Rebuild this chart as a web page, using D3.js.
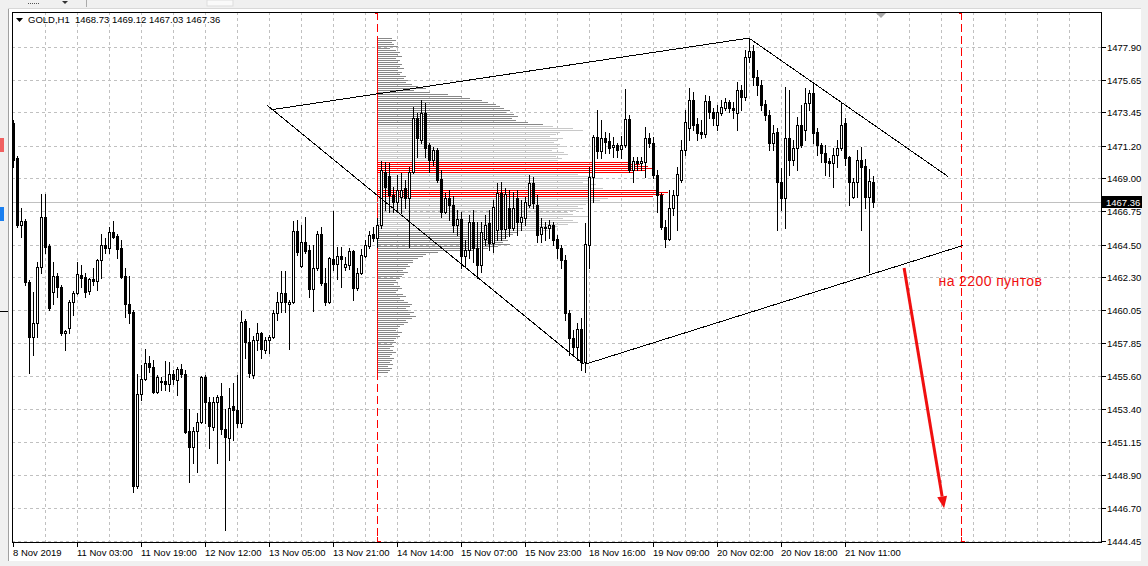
<!DOCTYPE html>
<html>
<head>
<meta charset="utf-8">
<script src="https://cdn.jsdelivr.net/npm/d3@7"></script>
<style>
  html, body { margin: 0; padding: 0; background: #fff; }
  svg { display: block; font-family: "Liberation Sans", Arial, sans-serif; }
</style>
</head>
<body>
<svg id="chart" width="1148" height="566"></svg>
<script>
// ---- data (GOLD, H1) ----
const symbol = "GOLD,H1";

const opens = [1472.72,1470.35,1465.82,1466.09,1461.96,1458.23,1459.18,1462.97,1466.36,1464.40,
1461.28,1462.36,1461.62,1458.51,1458.85,1460.60,1461.21,1462.43,1462.30,1461.35,
1462.16,1462.02,1463.45,1464.46,1464.26,1465.34,1465.07,1464.26,1462.36,1460.47,
1459.93,1448.15,1454.38,1455.40,1456.47,1456.20,1454.51,1455.26,1455.26,1455.05,
1455.73,1455.32,1456.07,1455.73,1451.87,1450.79,1451.87,1452.48,1455.53,1453.83,
1452.14,1453.83,1454.24,1452.01,1451.40,1453.56,1453.29,1452.41,1459.32,1457.90,
1455.66,1458.03,1458.51,1457.35,1458.03,1458.23,1459.86,1460.60,1461.21,1460.47,
1460.60,1465.41,1463.04,1464.67,1464.13,1461.49,1462.91,1465.21,1461.89,1460.60,
1463.52,1463.18,1463.72,1462.97,1463.11,1464.06,1461.55,1462.57,1463.72,1464.40,
1465.21,1464.94,1465.82,1469.41,1469.14,1467.85,1467.38,1467.71,1468.32,1467.65,
1469.41,1473.06,1471.57,1473.40,1471.23,1470.22,1470.90,1468.93,1466.70,1467.65,
1467.17,1465.82,1466.22,1463.72,1464.13,1466.02,1464.26,1463.11,1464.87,1465.95,
1464.60,1465.48,1467.98,1465.55,1466.97,1465.61,1467.65,1466.02,1466.29,1467.17,
1468.66,1467.17,1465.21,1465.68,1465.61,1465.82,1464.87,1464.26,1463.45,1459.86,
1458.17,1457.56,1458.78,1456.54,1464.46,1469.07,1471.78,1470.83,1471.71,1471.50,
1471.10,1471.23,1470.96,1471.23,1473.00,1469.54,1470.15,1470.02,1470.08,1471.71,
1471.37,1469.20,1467.85,1465.68,1464.87,1466.97,1467.85,1468.87,1470.90,1472.38,
1474.28,1472.66,1472.11,1471.98,1474.21,1473.47,1472.59,1473.40,1473.74,1474.14,
1473.74,1473.40,1474.96,1474.48,1477.19,1477.60,1475.84,1475.30,1474.01,1473.27,
1471.37,1472.11,1468.73,1467.65,1471.71,1470.22,1471.03,1472.59,1472.25,1474.08,
1474.75,1472.11,1471.23,1470.69,1470.15,1470.02,1470.56,1471.03,1472.72,1470.42,
1467.71,1468.73,1470.22,1469.81,1467.71,1468.73];

const highs = [1472.93,1470.49,1466.97,1466.22,1462.09,1461.28,1463.31,1467.92,1467.92,1464.53,
1463.31,1462.57,1461.76,1458.71,1460.74,1461.35,1463.31,1463.11,1462.57,1462.23,
1462.91,1463.52,1465.21,1464.94,1465.68,1466.09,1465.21,1464.80,1462.91,1462.36,
1460.06,1455.73,1456.34,1457.42,1456.95,1456.68,1455.66,1455.53,1456.61,1456.54,
1456.00,1456.20,1456.41,1456.00,1453.36,1452.14,1453.09,1455.60,1455.66,1454.17,
1454.17,1454.31,1455.12,1453.36,1454.78,1455.12,1455.66,1459.99,1459.45,1458.85,
1458.30,1459.18,1458.57,1458.23,1458.37,1460.06,1461.28,1462.70,1462.70,1460.74,
1466.09,1466.16,1465.82,1466.36,1464.46,1464.46,1465.41,1465.68,1462.91,1463.65,
1466.77,1464.33,1464.33,1463.65,1464.26,1464.13,1462.91,1464.19,1464.80,1465.41,
1465.68,1466.29,1470.15,1470.08,1470.02,1468.39,1469.20,1469.34,1468.87,1469.75,
1473.81,1473.40,1474.28,1474.08,1471.37,1471.10,1471.03,1469.54,1467.98,1468.19,
1467.78,1466.83,1466.70,1464.80,1466.49,1466.83,1466.02,1466.02,1466.49,1466.83,
1467.51,1468.66,1468.73,1468.32,1468.19,1468.05,1468.19,1467.51,1467.71,1469.20,
1469.07,1467.85,1466.29,1466.02,1466.16,1466.02,1465.14,1464.46,1463.79,1460.06,
1458.71,1459.18,1459.52,1465.95,1469.75,1471.91,1473.60,1472.93,1472.11,1472.05,
1471.78,1471.37,1471.84,1475.02,1473.27,1470.42,1470.42,1470.42,1472.45,1472.05,
1471.78,1469.54,1467.98,1466.16,1468.19,1468.19,1469.75,1471.57,1473.60,1475.09,
1474.82,1473.06,1472.93,1474.62,1474.55,1473.74,1473.94,1474.28,1474.42,1474.28,
1474.14,1475.50,1475.30,1477.67,1478.48,1478.00,1476.31,1475.63,1474.28,1473.60,
1472.59,1472.38,1469.68,1475.16,1474.96,1471.57,1473.13,1473.94,1475.09,1474.96,
1475.43,1472.38,1471.37,1471.23,1470.35,1471.03,1471.57,1474.14,1473.06,1470.49,
1469.00,1470.90,1471.10,1470.29,1469.61,1469.12];

const lows = [1469.75,1465.68,1465.00,1461.76,1455.80,1457.02,1458.23,1462.57,1463.92,1460.06,
1460.47,1460.94,1458.37,1457.35,1458.51,1459.73,1461.15,1461.62,1460.94,1461.15,
1461.76,1461.42,1462.23,1463.92,1463.92,1464.94,1463.58,1462.23,1459.59,1459.18,
1447.74,1448.01,1453.97,1455.32,1455.87,1454.44,1454.44,1454.65,1454.65,1454.58,
1455.05,1454.31,1455.53,1451.74,1448.42,1449.70,1449.10,1452.41,1452.41,1450.72,
1451.94,1449.70,1451.67,1445.17,1449.91,1451.26,1452.14,1452.14,1456.81,1455.53,
1455.46,1457.35,1456.81,1457.15,1457.15,1458.17,1459.39,1459.93,1459.93,1457.42,
1460.54,1463.79,1462.97,1463.92,1460.94,1459.99,1462.77,1461.76,1460.40,1460.54,
1462.77,1462.16,1461.62,1462.77,1462.84,1460.74,1461.42,1462.50,1463.65,1464.26,
1464.73,1464.33,1465.61,1466.83,1466.70,1466.70,1466.83,1466.63,1466.97,1464.33,
1469.34,1470.42,1471.37,1470.42,1469.41,1469.88,1468.73,1466.36,1466.63,1466.16,
1465.34,1465.14,1462.91,1463.04,1463.58,1463.31,1462.23,1462.63,1464.46,1464.13,
1463.99,1464.80,1464.80,1464.94,1465.07,1465.48,1465.14,1465.48,1465.82,1467.04,
1466.97,1464.67,1464.67,1464.80,1464.94,1464.46,1463.58,1462.91,1459.39,1457.02,
1457.02,1456.68,1456.00,1455.87,1462.91,1467.38,1470.35,1470.35,1470.69,1470.69,
1470.42,1470.42,1470.35,1471.10,1469.41,1468.73,1469.54,1469.54,1469.07,1471.10,
1469.00,1466.70,1465.55,1464.33,1464.80,1466.49,1465.48,1468.73,1470.56,1471.57,
1472.25,1471.57,1471.71,1471.78,1473.06,1472.59,1472.25,1473.27,1473.60,1473.47,
1473.06,1472.25,1473.60,1474.28,1476.85,1475.30,1474.62,1473.60,1472.93,1470.90,
1470.90,1465.48,1466.83,1465.61,1469.20,1469.88,1469.54,1471.10,1471.57,1473.60,
1471.37,1470.56,1470.08,1469.20,1469.14,1468.39,1469.75,1470.90,1469.88,1467.17,
1467.65,1467.71,1465.48,1466.97,1462.63,1467.03];

const closes = [1470.22,1465.82,1466.09,1461.96,1458.23,1459.18,1462.97,1466.36,1464.33,1460.20,
1462.36,1461.62,1458.51,1458.64,1460.60,1461.21,1462.50,1462.23,1461.28,1462.16,
1462.02,1463.45,1464.46,1464.26,1465.34,1465.00,1464.19,1462.30,1460.47,1459.86,
1448.15,1454.38,1455.40,1456.47,1456.20,1454.51,1455.53,1455.19,1455.05,1455.73,
1455.40,1456.07,1455.73,1451.80,1450.79,1451.87,1452.48,1455.53,1453.83,1452.21,
1453.83,1454.17,1452.01,1451.46,1453.43,1453.29,1452.41,1459.25,1457.90,1455.80,
1458.03,1458.51,1457.42,1458.03,1458.23,1459.86,1460.60,1461.21,1460.60,1460.60,
1465.41,1463.99,1464.67,1464.06,1461.49,1462.91,1465.21,1461.89,1460.60,1463.58,
1463.18,1463.72,1463.52,1463.18,1464.06,1461.55,1462.57,1463.79,1464.46,1465.14,
1464.94,1465.82,1469.54,1468.39,1467.85,1467.38,1468.19,1468.19,1467.65,1469.41,
1473.06,1471.71,1473.40,1471.03,1470.22,1470.90,1468.87,1466.70,1467.65,1467.17,
1465.82,1466.22,1463.72,1464.13,1466.02,1464.26,1463.11,1465.34,1465.82,1464.60,
1467.04,1467.98,1465.55,1467.92,1465.61,1466.97,1466.02,1466.36,1467.38,1468.66,
1467.31,1465.14,1465.68,1465.61,1465.82,1464.80,1464.26,1463.45,1459.86,1458.17,
1457.56,1458.78,1456.54,1464.53,1469.07,1471.78,1470.83,1471.71,1471.44,1471.03,
1471.23,1470.90,1471.23,1473.00,1469.54,1470.15,1470.02,1470.15,1471.71,1471.37,
1469.20,1467.85,1465.68,1464.87,1466.97,1467.85,1469.27,1470.90,1472.79,1474.28,
1472.59,1472.05,1471.98,1474.21,1473.47,1473.06,1473.47,1473.81,1474.14,1473.74,
1473.60,1474.96,1474.48,1477.19,1477.60,1475.84,1475.30,1473.94,1473.27,1471.37,
1472.05,1468.73,1467.65,1471.71,1470.22,1471.03,1472.59,1471.23,1474.08,1474.75,
1472.05,1471.23,1470.69,1470.08,1470.02,1470.56,1471.03,1472.59,1470.35,1468.73,
1468.73,1470.22,1469.75,1467.71,1468.80,1467.36];

// time scale labels (bar index -> text)
const timeLabelBars = [0, 16, 32, 48, 64, 80, 96, 112, 128, 144, 160, 176, 192, 208];
const timeLabels = ["8 Nov 2019", "11 Nov 03:00", "11 Nov 19:00", "12 Nov 12:00", "13 Nov 05:00",
  "13 Nov 21:00", "14 Nov 14:00", "15 Nov 07:00", "15 Nov 23:00", "18 Nov 16:00",
  "19 Nov 09:00", "20 Nov 02:00", "20 Nov 18:00", "21 Nov 11:00"];

// price scale labels
const priceTicks = [1477.90, 1475.65, 1473.45, 1471.20, 1469.00, 1466.75, 1464.50, 1462.30,
  1460.05, 1457.85, 1455.60, 1453.40, 1451.15, 1448.90, 1446.70, 1444.45];

// volume profile (from bar 91, rows going down from the top level)
const profileStartBar = 91;
const profileTopPrice = 1478.47;
const profileRowStep = 0.1353;
const profileVolumes = [14,18,14,16,20,12,18,
  22,20,24,18,22,
  20,24,22,26,20,24,22,28,
  26,30,28,34,
  40,48,36,52,
  70,84,92,
  104,110,118,122,126,
  132,128,136,140,134,138,150,
  165,
  175,195,205,
  182,178,172,185,180,
  176,182,188,180,174,186,190,178,184,180,
  250,262,270,275,268,255,
  200,215,222,210,205,218,212,225,
  280,290,286,275,
  230,222,215,208,
  200,205,198,190,195,210,
  185,195,200,190,180,175,170,
  140,135,130,
  128,130,125,132,120,110,95,
  60,48,45,40,35,
  35,30,32,28,25,30,26,24,
  22,18,20,16,22,24,20,18,
  25,28,22,26,30,34,32,28,
  30,36,32,38,34,28,30,26,
  22,20,18,24,20,22,18,16,
  18,14,16,12,15,18,14,12,16,14,12,15,10,14,12,10];
const valueAreaHigh = 1472.55;
const valueAreaLow = 1465.45;
const pocVolume = 245;

// drawn objects: [bar1, price1, bar2, price2]
const trendLines = [
  [64.5, 1473.62, 183.9, 1478.47],
  [63.4, 1473.94, 142.6, 1456.41],
  [143.0, 1456.41, 237.4, 1464.44],
  [183.9, 1478.47, 233.7, 1469.10]
];
const rangeBars = [91, 237];
const arrowLine = [222.7, 1462.91, 232.7, 1446.66];
const noteBar = 231.3, notePrice = 1461.70, noteText = "на 2200 пунтов";

// ---- drawing ----
const W = 1148, H = 566;
const plot = { left: 12, top: 12, right: 1101, bottom: 542 };

const x = d3.scaleLinear().domain([0, 272]).range([13.3, 1101.3]);
const y = d3.scaleLinear().domain([1444.45, 1477.90]).range([541, 46.5]);
const vol = d3.scaleLinear().domain([0, 300]).range([0, 300]);
const cx = i => Math.round(x(i));
const cy = p => Math.round(y(p));

const svg = d3.select("#chart");

// window chrome around the chart
svg.append("rect").attr("width", W).attr("height", H).attr("fill", "#fff");
svg.append("rect").attr("x", 0).attr("y", 0).attr("width", W).attr("height", 8).attr("fill", "#f0f0f0");
svg.append("line").attr("x1", 0).attr("x2", W).attr("y1", 8.5).attr("y2", 8.5).attr("stroke", "#d8d8d8");
svg.append("g").selectAll("rect").data(d3.range(6)).join("rect")
  .attr("x", k => 28 + k * 2).attr("y", 3).attr("width", 1).attr("height", 1).attr("fill", "#555");
svg.append("path").attr("d", "M62,1 L68,1 L65,4 Z").attr("fill", "#333");
svg.append("line").attr("x1", 86.5).attr("x2", 86.5).attr("y1", 0).attr("y2", 7).attr("stroke", "#aaa");
svg.append("rect").attr("x", 207).attr("y", 0).attr("width", 26).attr("height", 6).attr("fill", "#fafafa").attr("stroke", "#ddd");
svg.append("rect").attr("x", 0).attr("y", 0).attr("width", 8).attr("height", H).attr("fill", "#f0f0f0");
svg.append("line").attr("x1", 8.5).attr("x2", 8.5).attr("y1", 9).attr("y2", H).attr("stroke", "#a0a0a0");
svg.append("rect").attr("x", 0).attr("y", 138).attr("width", 4).attr("height", 14).attr("fill", "#f06060");
svg.append("rect").attr("x", 0).attr("y", 207).attr("width", 4).attr("height", 14).attr("fill", "#1a7ff0");
svg.append("line").attr("x1", 0).attr("x2", 8).attr("y1", 311.5).attr("y2", 311.5).attr("stroke", "#000");
svg.append("rect").attr("x", 1141).attr("y", 0).attr("width", 7).attr("height", H).attr("fill", "#f0f0f0");
svg.append("rect").attr("x", 0).attr("y", 561).attr("width", W).attr("height", 5).attr("fill", "#f0f0f0");

svg.append("defs").append("clipPath").attr("id", "plotClip")
  .append("rect").attr("x", plot.left + 1).attr("y", plot.top + 1)
  .attr("width", plot.right - plot.left - 1).attr("height", plot.bottom - plot.top - 1);

const g = svg.append("g").attr("clip-path", "url(#plotClip)").attr("shape-rendering", "crispEdges");

// grid
const gridBars = d3.range(8, 272, 8);
g.append("g").selectAll("line").data(gridBars).join("line")
  .attr("x1", d => cx(d) + 0.5).attr("x2", d => cx(d) + 0.5)
  .attr("y1", plot.top).attr("y2", plot.bottom)
  .attr("stroke", "#c0c0c0").attr("stroke-dasharray", "3,3");
g.append("g").selectAll("line").data(priceTicks).join("line")
  .attr("x1", plot.left).attr("x2", plot.right)
  .attr("y1", d => cy(d) + 0.5).attr("y2", d => cy(d) + 0.5)
  .attr("stroke", "#c0c0c0").attr("stroke-dasharray", "3,3");

// range markers (dashed red verticals)
g.append("g").selectAll("line").data(rangeBars).join("line")
  .attr("x1", d => cx(d) + 0.5).attr("x2", d => cx(d) + 0.5)
  .attr("y1", plot.top).attr("y2", plot.bottom)
  .attr("stroke", "#ff0000").attr("stroke-dasharray", "8,4");

// volume profile
const rows = profileVolumes.map((v, k) => ({ v, p: profileTopPrice - k * profileRowStep }));
g.append("g").selectAll("rect").data(rows).join("rect")
  .attr("x", cx(profileStartBar) + 1)
  .attr("y", d => cy(d.p))
  .attr("width", d => vol(d.v))
  .attr("height", 1)
  .attr("fill", d => d.v >= pocVolume ? "#ff0000"
    : (d.p <= valueAreaHigh && d.p >= valueAreaLow ? "#c8c8c8" : "#888888"));
g.append("line")
  .attr("x1", cx(profileStartBar) + 0.5).attr("x2", cx(profileStartBar) + 0.5)
  .attr("y1", cy(profileTopPrice)).attr("y2", cy(rows[rows.length - 1].p) + 1)
  .attr("stroke", "#ff0000");

// current bid line
const last = closes[closes.length - 1];
g.append("line")
  .attr("x1", plot.left).attr("x2", plot.right)
  .attr("y1", cy(last) + 0.5).attr("y2", cy(last) + 0.5)
  .attr("stroke", "#c0c0c0");

// candles
const bars = opens.map((o, i) => ({ i, o, h: highs[i], l: lows[i], c: closes[i] }));
const candle = g.append("g").selectAll("g").data(bars).join("g");
candle.append("line")
  .attr("x1", d => cx(d.i) + 0.5).attr("x2", d => cx(d.i) + 0.5)
  .attr("y1", d => cy(d.h)).attr("y2", d => cy(d.l) + 1)
  .attr("stroke", "#000");
candle.append("rect")
  .attr("x", d => cx(d.i) - 0.5)
  .attr("y", d => cy(Math.max(d.o, d.c)) + 0.5)
  .attr("width", 2)
  .attr("height", d => Math.max(0, cy(Math.min(d.o, d.c)) - cy(Math.max(d.o, d.c))))
  .attr("fill", d => d.c >= d.o ? "#fff" : "#000")
  .attr("stroke", "#000");

// trend lines
g.append("g").selectAll("line").data(trendLines).join("line")
  .attr("x1", d => x(d[0])).attr("y1", d => y(d[1]))
  .attr("x2", d => x(d[2])).attr("y2", d => y(d[3]))
  .attr("stroke", "#000").attr("stroke-width", 1);

// red arrow + note
const ax1 = x(arrowLine[0]), ay1 = y(arrowLine[1]), ax2 = x(arrowLine[2]), ay2 = y(arrowLine[3]);
const ang = Math.atan2(ay2 - ay1, ax2 - ax1);
const headLen = 12, headW = 5;
const bx = ax2 - headLen * Math.cos(ang), by = ay2 - headLen * Math.sin(ang);
svg.append("line")
  .attr("x1", ax1).attr("y1", ay1).attr("x2", bx).attr("y2", by)
  .attr("stroke", "#f01010").attr("stroke-width", 3);
svg.append("path")
  .attr("d", `M${ax2},${ay2} L${bx + headW * Math.sin(ang)},${by - headW * Math.cos(ang)} L${bx - headW * Math.sin(ang)},${by + headW * Math.cos(ang)} Z`)
  .attr("fill", "#f01010");
svg.append("text")
  .attr("x", x(noteBar)).attr("y", y(notePrice))
  .attr("font-size", 14).attr("letter-spacing", 0.4).attr("fill", "#f01010")
  .text(noteText);

// marks at the ends of the range lines and chart shift marker
rangeBars.forEach(b => {
  svg.append("path").attr("d", `M${cx(b) + 0.5},13 V17 M${cx(b) + 0.5},13 H${cx(b) - 2}`)
    .attr("stroke", "#ff0000").attr("fill", "none").attr("shape-rendering", "crispEdges");
  svg.append("path").attr("d", `M${cx(b) + 0.5},537 V541.5 H${cx(b) + 4}`)
    .attr("stroke", "#ff0000").attr("fill", "none").attr("shape-rendering", "crispEdges");
});
svg.append("path").attr("d", `M${cx(217) - 5},13 L${cx(217) + 5},13 L${cx(217)},18 Z`).attr("fill", "#a8a8a8");

// frame
svg.append("rect")
  .attr("x", plot.left + 0.5).attr("y", plot.top + 0.5)
  .attr("width", plot.right - plot.left).attr("height", plot.bottom - plot.top)
  .attr("fill", "none").attr("stroke", "#000").attr("shape-rendering", "crispEdges");

// price axis
const pAxis = svg.append("g").attr("shape-rendering", "crispEdges");
pAxis.selectAll("line").data(priceTicks).join("line")
  .attr("x1", plot.right + 1).attr("x2", plot.right + 5)
  .attr("y1", d => cy(d) + 0.5).attr("y2", d => cy(d) + 0.5)
  .attr("stroke", "#000");
svg.append("g").selectAll("text").data(priceTicks).join("text")
  .attr("x", 1107).attr("y", d => cy(d) + 4)
  .attr("font-size", 9.5).attr("fill", "#000")
  .text(d => d.toFixed(2));

// bid label
svg.append("rect").attr("x", 1102).attr("y", cy(last) - 6).attr("width", 40).attr("height", 12).attr("fill", "#000");
svg.append("text").attr("x", 1106).attr("y", cy(last) + 4)
  .attr("font-size", 9.5).attr("fill", "#fff").text(last.toFixed(2));

// time axis
const tAxis = svg.append("g").attr("shape-rendering", "crispEdges");
tAxis.selectAll("line").data(timeLabelBars).join("line")
  .attr("x1", d => cx(d) + 0.5).attr("x2", d => cx(d) + 0.5)
  .attr("y1", plot.bottom).attr("y2", plot.bottom + 5)
  .attr("stroke", "#000");
svg.append("g").selectAll("text").data(timeLabels).join("text")
  .attr("x", (d, k) => cx(timeLabelBars[k]))
  .attr("y", 556)
  .attr("font-size", 9.5).attr("fill", "#000")
  .text(d => d);

// title
svg.append("path").attr("d", "M16,18 L23,18 L19.5,22 Z").attr("fill", "#000");
const lastBar = bars[bars.length - 1];
svg.append("text").attr("x", 28).attr("y", 23).attr("font-size", 9.5).attr("fill", "#000")
  .attr("xml:space", "preserve")
  .text(`${symbol}  ${lastBar.o.toFixed(2)} ${lastBar.h.toFixed(2)} ${lastBar.l.toFixed(2)} ${lastBar.c.toFixed(2)}`);
</script>
</body>
</html>
